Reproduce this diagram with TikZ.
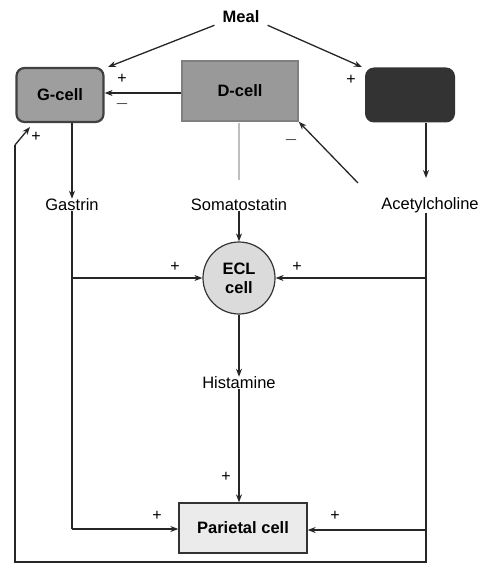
\documentclass[tikz,border=0pt]{standalone}
\usepackage{fontspec}
\setmainfont{Liberation Sans}
\usetikzlibrary{arrows.meta}
\definecolor{gfill}{gray}{0.62}
\definecolor{gborder}{gray}{0.25}
\definecolor{dfill}{gray}{0.6}
\definecolor{darkbox}{gray}{0.2}
\definecolor{eclfill}{gray}{0.86}
\definecolor{parfill}{gray}{0.92}
\begin{document}
\begin{tikzpicture}[x=1pt,y=-1pt,
  every node/.style={font=\fontsize{16.5}{19}\selectfont, inner sep=0pt},
  lbl/.style={font=\fontsize{16.5}{19}\selectfont},
  boldf/.style={font=\fontsize{16.5}{19}\selectfont\bfseries},
  sign/.style={font=\fontsize{16}{18}\selectfont},
  conn/.style={draw=black!85, line width=1.3pt, -{Stealth[length=8pt,width=6pt]}},
  line/.style={draw=black!85, line width=1.3pt}]
\useasboundingbox (0,0) rectangle (481,564);
% nodes
\node[boldf] (meal) at (241,17) {Meal};
\node[draw=gborder, line width=2.2pt, fill=gfill, rounded corners=8pt, minimum width=87pt, minimum height=54pt, boldf] (g) at (60,95) {G-cell};
\node[draw=black!50, line width=1.5pt, fill=dfill, minimum width=116pt, minimum height=60pt, boldf] (d) at (240,91) {D-cell};
\node[fill=darkbox, rounded corners=9pt, minimum width=90pt, minimum height=55pt] (v) at (410,95) {};
\node[lbl] (gas) at (72,205) {Gastrin};
\node[lbl] (som) at (239,205) {Somatostatin};
\node[lbl] (ach) at (430,205) {Acetylcholine};
\node[draw=black!80, line width=1.2pt, fill=eclfill, circle, minimum size=72pt, align=center, boldf] (ecl) at (239,278) {ECL\\cell};
\node[lbl] (his) at (239,383) {Histamine};
\node[draw=black!80, line width=1.3pt, fill=parfill, minimum width=128pt, minimum height=50pt, boldf] (par) at (243,528) {Parietal cell};
% coordinates
\coordinate (gx) at (72,278);
\coordinate (ax) at (426,278);
\coordinate (gb) at (72,529);
\coordinate (ab) at (426,530);
\coordinate (abot) at (426,562);
\coordinate (lbot) at (15,562);
\coordinate (ltop) at (15,145);
% connectors
\draw[conn] (meal.south west) ++(-8,2) -- (108,67);
\draw[conn] (meal.south east) ++(8,2) -- (362,67);
\draw[conn] (d.west |- 0,93) -- (g.east |- 0,93);
\draw[conn] (358,183) -- (d.south east);
\draw[conn] (g.south -| 72,0) -- (gas.north -| 72,0);
\draw[conn] (v.south -| 426,0) -- (426,178);
\draw[black!25, line width=2pt] (239,123) -- (239,180);
\draw[conn] (som.south) -- (ecl.north);
\draw[line] (gas.south -| 72,0) -- (gx) -- (gb);
\draw[conn] (gx) -- (ecl.west);
\draw[line] (ach.south -| 426,0) -- (ax) -- (ab) -- (abot) -- (lbot) -- (ltop);
\draw[conn] (ax) -- (ecl.east);
\draw[conn] (ltop) -- (30,127);
\draw[conn] (ecl.south) -- (his.north);
\draw[conn] (his.south) -- (his.south |- par.north);
\draw[conn] (gb) -- (par.west |- gb);
\draw[conn] (ab) -- (par.east |- ab);
% signs
\node[sign] at (122,79) {+};
\node[sign] at (122,104) {$-$};
\node[sign] at (351,80) {+};
\node[sign] at (36,137) {+};
\node[sign] at (291,140) {$-$};
\node[sign] at (175,267) {+};
\node[sign] at (297,267) {+};
\node[sign] at (226,477) {+};
\node[sign] at (157,516) {+};
\node[sign] at (335,516) {+};
\end{tikzpicture}
\end{document}
